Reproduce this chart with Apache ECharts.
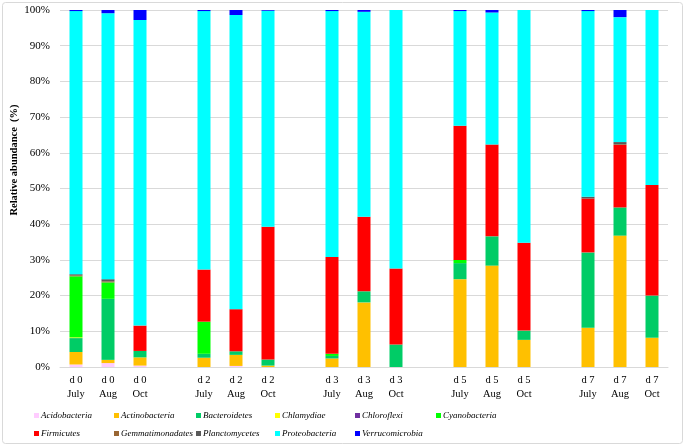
<!DOCTYPE html>
<html>
<head>
<meta charset="utf-8">
<script src="https://cdn.jsdelivr.net/npm/echarts@6/dist/echarts.min.js"></script>
<style>
html,body{margin:0;padding:0;background:#fff;}
#chart{width:685px;height:448px;}
</style>
</head>
<body>
<div id="chart"></div>
<script>
// Sample labels (day, month); gaps between day groups are added below
const days = ['d 0','d 0','d 0','d 2','d 2','d 2','d 3','d 3','d 3','d 5','d 5','d 5','d 7','d 7','d 7'];
const months = ['July','Aug','Oct','July','Aug','Oct','July','Aug','Oct','July','Aug','Oct','July','Aug','Oct'];
const yTicks = ['0%','10%','20%','30%','40%','50%','60%','70%','80%','90%','100%'];

const taxa = ['Acidobacteria','Actinobacteria','Bacteroidetes','Chlamydiae','Chloroflexi','Cyanobacteria','Firmicutes','Gemmatimonadates','Planctomycetes','Proteobacteria','Verrucomicrobia'];
const colors = ['#FFCCFF','#FFC000','#00CC66','#FFFF00','#7030A0','#00FF00','#FF0000','#996633','#595959','#00FFFF','#0000FF'];

const acidobacteria    = [0.7, 1.1, 0.4, 0,   0.3, 0,    0,    0,    0,    0,    0,    0,    0,    0,    0];
const actinobacteria   = [3.5, 0.9, 2.3, 2.6, 3.1, 0.4,  2.4,  18.1, 0,    24.6, 28.4, 7.6,  11.0, 36.8, 8.2];
const bacteroidetes    = [3.9, 17.1,1.8, 1.1, 1.0, 1.7,  0.7,  3.1,  6.3,  4.5,  8.2,  2.6,  21.1, 7.9,  11.8];
const chlamydiae       = [0.2, 0,   0,   0,   0,   0,    0,    0,    0,    0,    0,    0,    0,    0,    0];
const chloroflexi      = [0,   0,   0,   0,   0,   0,    0,    0,    0,    0,    0,    0,    0,    0,    0];
const cyanobacteria    = [17.1,4.6, 0,   9.0, 0,   0,    0.6,  0,    0,    0.9,  0,    0,    0,    0,    0];
const firmicutes       = [0,   0,   7.1, 14.6,11.8,37.2, 27.1, 20.9, 21.3, 37.6, 25.7, 24.6, 15.1, 17.5, 31.0];
const gemmatimonadates = [0.3, 0.3, 0,   0,   0,   0,    0,    0,    0,    0,    0,    0,    0,    0.2,  0];
const planctomycetes   = [0.3, 0.6, 0,   0,   0,   0,    0,    0,    0,    0,    0,    0,    0.5,  0.6,  0];
const proteobacteria   = [73.7,74.5,85.6,72.4,82.4,60.5, 68.9, 57.4, 72.4, 32.1, 37.0, 65.2, 52.0, 35.0, 49.0];
const verrucomicrobia  = [0.3, 0.9, 2.8, 0.3, 1.4, 0.2,  0.3,  0.5,  0,    0.3,  0.7,  0,    0.3,  2.0,  0];

const values = [acidobacteria, actinobacteria, bacteroidetes, chlamydiae, chloroflexi, cyanobacteria,
                firmicutes, gemmatimonadates, planctomycetes, proteobacteria, verrucomicrobia];

// insert a blank category after every group of 3 samples (except last)
function withGaps(arr, blank) {
  const out = [];
  arr.forEach((v, i) => {
    out.push(v);
    if (i % 3 === 2 && i < arr.length - 1) out.push(blank);
  });
  return out;
}
const categories = withGaps(days.map((d, i) => d + '\n' + months[i]), '');

const series = taxa.map((name, k) => ({
  name: name,
  type: 'bar',
  stack: 'total',
  barWidth: 13,
  itemStyle: { color: colors[k] },
  data: withGaps(values[k], '-')
}));

const serif = '"Liberation Serif", "Times New Roman", serif';

// legend positions: two rows, six columns
const colX = [34, 114, 196, 275, 355, 436];
const rowY = [411, 429];
const legends = taxa.map((name, i) => ({
  data: [name],
  left: colX[i % 6],
  top: rowY[Math.floor(i / 6)],
  icon: 'rect',
  itemWidth: 5,
  itemHeight: 5,
  itemGap: 0,
  padding: 0,
  selectedMode: false,
  textStyle: { fontFamily: serif, fontStyle: 'italic', fontSize: 9, color: '#000', padding: [0, 0, 0, -3] }
}));

const chart = echarts.init(document.getElementById('chart'), null, { renderer: 'canvas' });
chart.setOption({
  animation: false,
  backgroundColor: '#fff',
  grid: { left: 60, right: 17, top: 10, bottom: 81 },
  legend: legends,
  graphic: [
    { type: 'rect', shape: { x: 2.5, y: 2.5, width: 680, height: 441, r: 3 },
      style: { fill: 'none', stroke: '#d9d9d9', lineWidth: 1 }, silent: true },
    { type: 'text', x: 14, y: 160, rotation: Math.PI / 2,
      style: { text: 'Relative abundance  (%)', font: 'bold 10.5px ' + serif, fill: '#000',
               textAlign: 'center', textVerticalAlign: 'middle' } }
  ],
  xAxis: {
    type: 'category',
    data: categories,
    axisLine: { lineStyle: { color: '#d9d9d9' } },
    axisTick: { show: false },
    axisLabel: { interval: 0, fontFamily: serif, fontSize: 10.5, color: '#000', lineHeight: 14, margin: 6 }
  },
  yAxis: {
    type: 'value',
    min: 0, max: 100, interval: 10,
    axisLine: { show: false },
    axisTick: { show: false },
    splitLine: { lineStyle: { color: '#d9d9d9' } },
    axisLabel: {
      formatter: v => yTicks[Math.round(v / 10)],
      fontFamily: serif, fontSize: 11, color: '#000', margin: 10
    }
  },
  series: series
});
</script>
</body>
</html>
